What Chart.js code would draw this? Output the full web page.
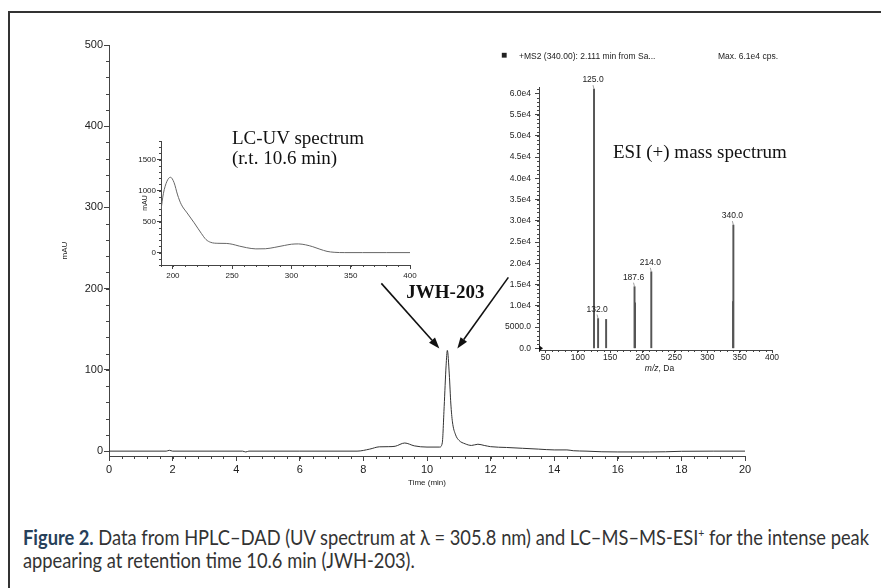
<!DOCTYPE html>
<html>
<head>
<meta charset="utf-8">
<script src="https://cdn.jsdelivr.net/npm/chart.js@4.4.1/dist/chart.umd.min.js"></script>
<style>
  body { margin: 0; background: #fff; }
  #wrap { position: relative; width: 881px; height: 588px; overflow: hidden; font-family: "Liberation Sans", Arial, sans-serif; }
  #frame { position: absolute; left: 8px; top: 11px; right: -10px; bottom: -10px; border-left: 2px solid #333; border-top: 2px solid #333; }
  canvas { position: absolute; }
  .note { position: absolute; font-family: "Liberation Serif", "Times New Roman", serif; font-size: 19px; line-height: 20px; color: #111; white-space: nowrap; }
  .ms-head { position: absolute; font-size: 8.5px; line-height: 10px; color: #222; white-space: nowrap; }
  .cap { position: absolute; left: 23px; font-family: Lato, "Liberation Sans", sans-serif; font-size: 21px; line-height: 23px; color: #333; white-space: nowrap; transform-origin: 0 50%; }
  .cap b { color: #27405a; }
  .cap sup { font-size: 12px; line-height: 0; }
</style>
</head>
<body>
<div id="wrap">
  <div id="frame"></div>
  <canvas id="mainChart" width="881" height="500" style="left:0;top:0"></canvas>
  <canvas id="uvChart" width="310" height="160" style="left:120px;top:125px"></canvas>
  <canvas id="msChart" width="320" height="340" style="left:480px;top:40px"></canvas>

  <div class="note" style="left:232px;top:128px">LC-UV spectrum</div>
  <div class="note" style="left:232px;top:148px">(r.t. 10.6 min)</div>
  <div class="note" style="left:613px;top:142px">ESI (+) mass spectrum</div>

  <div class="ms-head" style="left:501px;top:50px;font-size:10px">&#9632;</div>
  <div class="ms-head" style="left:519px;top:51px">+MS2 (340.00): 2.111 min from Sa...</div>
  <div class="ms-head" style="left:718px;top:51px">Max. 6.1e4 cps.</div>

  <div class="cap" id="cap1" style="top:525px"><b>Figure 2.</b> Data from HPLC–DAD (UV spectrum at λ = 305.8 nm) and LC–MS–MS-ESI<sup>+</sup> for the intense peak</div>
  <div class="cap" id="cap2" style="top:548px">appearing at retention time 10.6 min (JWH-203).</div>
</div>

<script>
// Chromatogram (time in min, absorbance in mAU)
const rtTime = [0, 1.8, 1.9, 2.0, 4.2, 4.3, 4.4, 6.0, 7.8, 8.2, 8.5, 8.8, 9.0, 9.3, 9.6, 10.0, 10.4, 10.48, 10.54, 10.6, 10.64, 10.7, 10.75, 10.8, 10.9, 11.0, 11.2, 11.4, 11.6, 11.8, 12.0, 12.5, 13.0, 13.5, 14.0, 14.4, 14.6, 15.0, 15.5, 16.0, 17.0, 17.5, 18.0, 19.0, 20.0];
const rtAbs  = [0, 0, 1, 0, 0, -1, 0, 0, 0, 2.5, 5.3, 5.5, 6, 10, 6.5, 5, 5, 10, 55, 105, 124, 95, 58, 36, 20, 13.5, 9, 7, 8.5, 7, 5.5, 4.5, 3.5, 2.5, 1.5, 1.5, 0.5, 0, -0.8, -1, -1, -0.8, -0.2, 0, 0];
const rtTicksX = [0, 2, 4, 6, 8, 10, 12, 14, 16, 18, 20];
const rtTicksY = [0, 100, 200, 300, 400, 500];

// UV spectrum of the peak
const uvWave = [190, 192, 195, 198, 201, 204, 207, 212, 218, 224, 228, 232, 238, 245, 250, 256, 262, 270, 278, 286, 294, 300, 306, 312, 318, 324, 330, 336, 345, 360, 380, 400];
const uvAbs  = [690, 950, 1150, 1215, 1130, 930, 780, 640, 480, 310, 210, 165, 150, 148, 135, 105, 80, 60, 62, 85, 115, 135, 140, 125, 95, 55, 20, 5, 0, 0, 0, 0];
const uvTicksX = [200, 250, 300, 350, 400];
const uvTicksY = [0, 500, 1000, 1500];

// ESI(+) MS2 spectrum
const msMz     = [125.0, 131.3, 143.7, 187.6, 188.4, 213.5, 340.3, 339.8];
const msInt    = [61000, 7000, 6800, 14500, 10700, 18000, 29000, 11000];
const msLabels = ['125.0', '132.0', '', '187.6', '', '214.0', '340.0', ''];
const msTicksX = [50, 100, 150, 200, 250, 300, 350, 400];
const msTicksY = [0, 5000, 10000, 15000, 20000, 25000, 30000, 35000, 40000, 45000, 50000, 55000, 60000];

const axisColor = '#444';
const labelColor = '#222';

function fixedTicks(values) {
  return function (scale) { scale.ticks = values.map(v => ({ value: v })); };
}

function minorTicks(chart, id, step, len) {
  const s = chart.scales[id];
  const ctx = chart.ctx;
  ctx.save();
  ctx.strokeStyle = axisColor;
  ctx.lineWidth = 1;
  ctx.beginPath();
  const n0 = Math.ceil(s.min / step), n1 = Math.floor(s.max / step + 1e-9);
  for (let n = n0; n <= n1; n++) {
    const p = Math.round(s.getPixelForValue(n * step)) + 0.5;
    if (s.isHorizontal()) { ctx.moveTo(p, s.top); ctx.lineTo(p, s.top + len); }
    else { ctx.moveTo(s.right, p); ctx.lineTo(s.right - len, p); }
  }
  ctx.stroke();
  ctx.restore();
}

function axisOpts(size, tickLen, pad) {
  return {
    border: { color: axisColor, width: 1 },
    grid: { drawOnChartArea: false, drawTicks: true, tickLength: tickLen, color: axisColor },
    ticks: { color: labelColor, font: { family: 'Liberation Sans', size: size }, padding: pad, maxRotation: 0, autoSkip: false, callback: v => String(v) }
  };
}

// main chromatogram
const mainX = axisOpts(11, 5, 2);
Object.assign(mainX, {
  type: 'linear', min: 0, max: 20,
  afterBuildTicks: fixedTicks(rtTicksX),
  afterFit: s => { s.height = 44; },
  title: { display: true, text: 'Time (min)', color: labelColor, font: { family: 'Liberation Sans', size: 8 }, padding: { top: 0, bottom: 12 } }
});
const mainY = axisOpts(11, 5, 1);
Object.assign(mainY, {
  min: -6, max: 500,
  afterBuildTicks: fixedTicks(rtTicksY),
  afterFit: s => { s.width = 109; },
  title: { display: true, text: 'mAU', color: labelColor, font: { family: 'Liberation Sans', size: 8 }, padding: { top: 60, bottom: 0 } }
});

function arrow(ctx, x0, y0, x1, y1) {
  const a = Math.atan2(y1 - y0, x1 - x0);
  const hl = 11, hw = 4;
  ctx.beginPath();
  ctx.moveTo(x0, y0);
  ctx.lineTo(x1 - hl * Math.cos(a), y1 - hl * Math.sin(a));
  ctx.stroke();
  ctx.beginPath();
  ctx.moveTo(x1, y1);
  ctx.lineTo(x1 - hl * Math.cos(a) + hw * Math.sin(a), y1 - hl * Math.sin(a) - hw * Math.cos(a));
  ctx.lineTo(x1 - hl * Math.cos(a) - hw * Math.sin(a), y1 - hl * Math.sin(a) + hw * Math.cos(a));
  ctx.closePath();
  ctx.fill();
}

new Chart(document.getElementById('mainChart'), {
  type: 'line',
  data: {
    datasets: [{
      data: rtTime.map((t, i) => ({ x: t, y: rtAbs[i] })),
      borderColor: '#333', borderWidth: 1, pointRadius: 0,
      cubicInterpolationMode: 'monotone'
    }]
  },
  options: {
    responsive: false, animation: false,
    layout: { padding: { left: 0, top: 45, right: 136, bottom: 0 } },
    plugins: { legend: { display: false }, tooltip: { enabled: false } },
    scales: { x: mainX, y: mainY }
  },
  plugins: [{
    id: 'extras',
    afterDraw(chart) {
      minorTicks(chart, 'x', 0.4, 3);
      minorTicks(chart, 'y', 20, 3);
      // arrows and label pointing at the biggest peak
      const iMax = rtAbs.indexOf(Math.max(...rtAbs));
      const px = chart.scales.x.getPixelForValue(rtTime[iMax]);
      const py = chart.scales.y.getPixelForValue(rtAbs[iMax]);
      const ctx = chart.ctx;
      ctx.save();
      ctx.strokeStyle = '#111';
      ctx.fillStyle = '#111';
      ctx.lineWidth = 1.6;
      arrow(ctx, px - 66, py - 67, px - 8, py - 2);
      arrow(ctx, px + 61, py - 73, px + 10, py - 2);
      ctx.font = 'bold 19px "Liberation Serif", serif';
      ctx.textAlign = 'center';
      ctx.textBaseline = 'middle';
      ctx.fillText('JWH-203', px - 2, py - 57);
      ctx.restore();
    }
  }]
});

// UV inset
const uvX = axisOpts(8, 4, 2);
Object.assign(uvX, {
  type: 'linear', min: 190, max: 400,
  afterBuildTicks: fixedTicks(uvTicksX),
  afterFit: s => { s.height = 20; }
});
const uvY = axisOpts(8, 4, 1);
Object.assign(uvY, {
  min: -200, max: 1800,
  afterBuildTicks: fixedTicks(uvTicksY),
  afterFit: s => { s.width = 41; },
  title: { display: true, text: 'mAU', color: labelColor, font: { family: 'Liberation Sans', size: 7 }, padding: { top: 21, bottom: 0 } }
});

new Chart(document.getElementById('uvChart'), {
  type: 'line',
  data: {
    datasets: [{
      data: uvWave.map((w, i) => ({ x: w, y: uvAbs[i] })),
      borderColor: '#666', borderWidth: 1, pointRadius: 0,
      cubicInterpolationMode: 'monotone'
    }]
  },
  options: {
    responsive: false, animation: false,
    layout: { padding: { left: 0, top: 16, right: 20, bottom: 0 } },
    plugins: { legend: { display: false }, tooltip: { enabled: false } },
    scales: { x: uvX, y: uvY }
  },
  plugins: [{
    id: 'uvMinor',
    afterDraw(chart) {
      minorTicks(chart, 'x', 10, 2);
      minorTicks(chart, 'y', 100, 2);
    }
  }]
});

// MS inset
const msX = axisOpts(8.5, 3, 0);
Object.assign(msX, {
  type: 'linear', min: 40, max: 400, offset: false,
  afterBuildTicks: fixedTicks(msTicksX),
  afterFit: s => { s.height = 30; }
});
msX.grid.offset = false;
const msY = axisOpts(8.5, 4, 4);
Object.assign(msY, {
  min: -400, max: 61500,
  afterBuildTicks: fixedTicks(msTicksY),
  afterFit: s => { s.width = 59; }
});
msY.ticks.callback = v => v === 0 ? '0.0' : (v < 10000 ? v.toFixed(1) : (v / 10000).toFixed(1) + 'e4');

new Chart(document.getElementById('msChart'), {
  type: 'bar',
  data: {
    datasets: [{
      data: msMz.map((m, i) => ({ x: m, y: msInt[i] })),
      backgroundColor: '#555', borderWidth: 0,
      barThickness: 1.3
    }]
  },
  options: {
    responsive: false, animation: false,
    layout: { padding: { left: 0, top: 47, right: 28, bottom: 0 } },
    plugins: { legend: { display: false }, tooltip: { enabled: false } },
    scales: { x: msX, y: msY }
  },
  plugins: [{
    id: 'msExtras',
    afterDraw(chart) {
      minorTicks(chart, 'x', 10, 2);
      minorTicks(chart, 'y', 1000, 2);
      const ctx = chart.ctx;
      const sx = chart.scales.x, sy = chart.scales.y;
      ctx.save();
      ctx.font = '8.5px "Liberation Sans", sans-serif';
      ctx.fillStyle = labelColor;
      ctx.strokeStyle = '#888';
      ctx.lineWidth = 0.8;
      ctx.textAlign = 'center';
      ctx.textBaseline = 'middle';
      msLabels.forEach((lab, i) => {
        if (!lab) return;
        const x = sx.getPixelForValue(msMz[i]);
        const y = sy.getPixelForValue(msInt[i]);
        ctx.beginPath();
        ctx.moveTo(x - 1, y - 4);
        ctx.lineTo(x, y);
        ctx.stroke();
        ctx.fillText(lab, x - 1, y - 9);
      });
      // axis title: italic m/z, then ", Da"
      const cx = (sx.left + sx.right) / 2, ty = sx.bottom - 11;
      ctx.textAlign = 'left';
      ctx.font = 'italic 8.5px "Liberation Sans", sans-serif';
      const w1 = ctx.measureText('m/z').width;
      ctx.font = '8.5px "Liberation Sans", sans-serif';
      const w2 = ctx.measureText(', Da').width;
      const x0 = cx - (w1 + w2) / 2 + 4;
      ctx.font = 'italic 8.5px "Liberation Sans", sans-serif';
      ctx.fillText('m/z', x0, ty);
      ctx.font = '8.5px "Liberation Sans", sans-serif';
      ctx.fillText(', Da', x0 + w1, ty);
      // small marker at the origin
      const ox = sx.left, oy = sy.getPixelForValue(0);
      ctx.fillStyle = '#111';
      ctx.beginPath();
      ctx.moveTo(ox, oy - 3);
      ctx.lineTo(ox + 4, oy);
      ctx.lineTo(ox, oy + 3);
      ctx.closePath();
      ctx.fill();
      ctx.restore();
    }
  }]
});

// caption: squeeze to the width of the printed line
const cap1 = document.getElementById('cap1');
const cap2 = document.getElementById('cap2');
const k = 846 / cap1.getBoundingClientRect().width;
cap1.style.transform = 'scaleX(' + k + ')';
cap2.style.transform = 'scaleX(' + k + ')';
</script>
</body>
</html>
